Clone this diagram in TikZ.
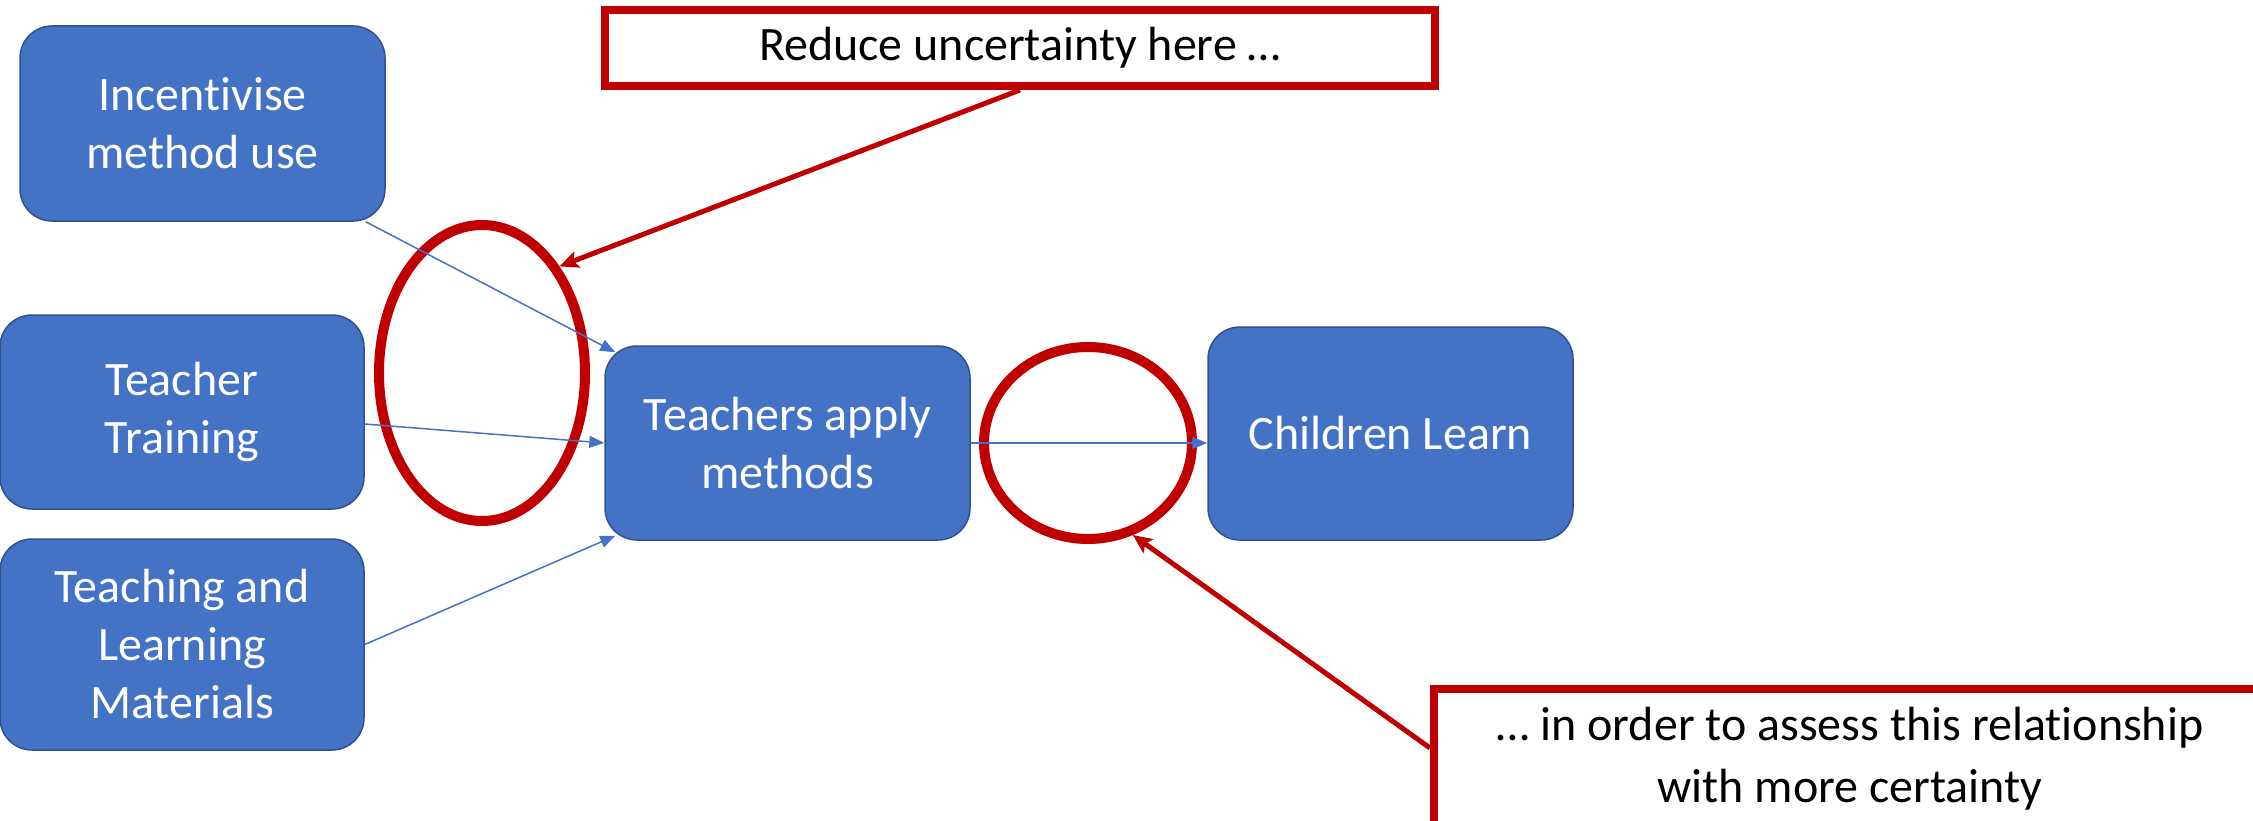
\documentclass[tikz,border=0pt]{standalone}
\usepackage{fontspec}
\setmainfont[Ligatures=NoCommon]{Carlito}
\usetikzlibrary{shapes.geometric,arrows.meta}
\definecolor{boxblue}{HTML}{4472C4}
\definecolor{boxedge}{HTML}{2F528F}
\definecolor{alertred}{HTML}{C00000}

\begin{document}
\begin{tikzpicture}[x=1pt,y=-1pt,
    block/.style={draw=boxedge,line width=1.5pt,fill=boxblue,rounded corners=32pt,
        text=white,align=center,minimum width=365pt,inner sep=0pt,
        font=\fontsize{48}{58}\selectfont},
    note/.style={draw=alertred,line width=8pt,fill=white,align=center,inner sep=0pt,
        font=\fontsize{48}{62}\selectfont},
    ring/.style={ellipse,draw=alertred,line width=10pt,inner sep=0pt},
    link/.style={draw=boxblue,line width=1.5pt,-{Triangle[length=15pt,width=12pt]}},
    pointer/.style={draw=alertred,line width=5pt,-{Stealth[length=19pt,width=17pt,inset=4pt]}}]
    \useasboundingbox (0,0) rectangle (2253,821);
    \clip (0,0) rectangle (2253,821);
    \node[block,minimum height=195pt] (inc) at (202.5,123.5) {Incentivise\\method use};
    \node[block,minimum height=194pt,minimum width=364pt] (train) at (182,412) {Teacher\\Training};
    \node[block,minimum height=211pt,minimum width=364pt] (mat) at (182,644.5) {Teaching and\\Learning\\Materials};
    \node[block,minimum height=194pt] (apply) at (787.5,443) {Teachers apply\\methods};
    \node[block,minimum height=213pt] (learn) at (1390.5,433.5) {Children Learn};
    \node[ring,minimum width=206pt,minimum height=296pt] (ring1) at (482,373) {};
    \node[ring,minimum width=208pt,minimum height=192pt] (ring2) at (1088,443) {};
    \draw[link] ([xshift=-20pt]inc.south east) -- ([xshift=11pt,yshift=-7pt]apply.north west);
    \draw[link] ([yshift=-12pt]train.east) -- (apply.west);
    \draw[link] (mat.east) -- ([xshift=11pt,yshift=5pt]apply.south west);
    \draw[link] (apply.east) -- ([yshift=-9.5pt]learn.west);
    \node[note,minimum width=830pt,minimum height=76pt] (note1) at (1020,48) {Reduce uncertainty here \dots};
    \node[note,minimum width=832pt,minimum height=140pt] (note2) at (1850,759) {\dots\ in order to assess this relationship\\with more certainty};
    \draw[pointer] (note1.south) -- (ring1.54);
    \draw[pointer] ([yshift=11pt]note2.west) -- (ring2.-64);
\end{tikzpicture}
\end{document}
